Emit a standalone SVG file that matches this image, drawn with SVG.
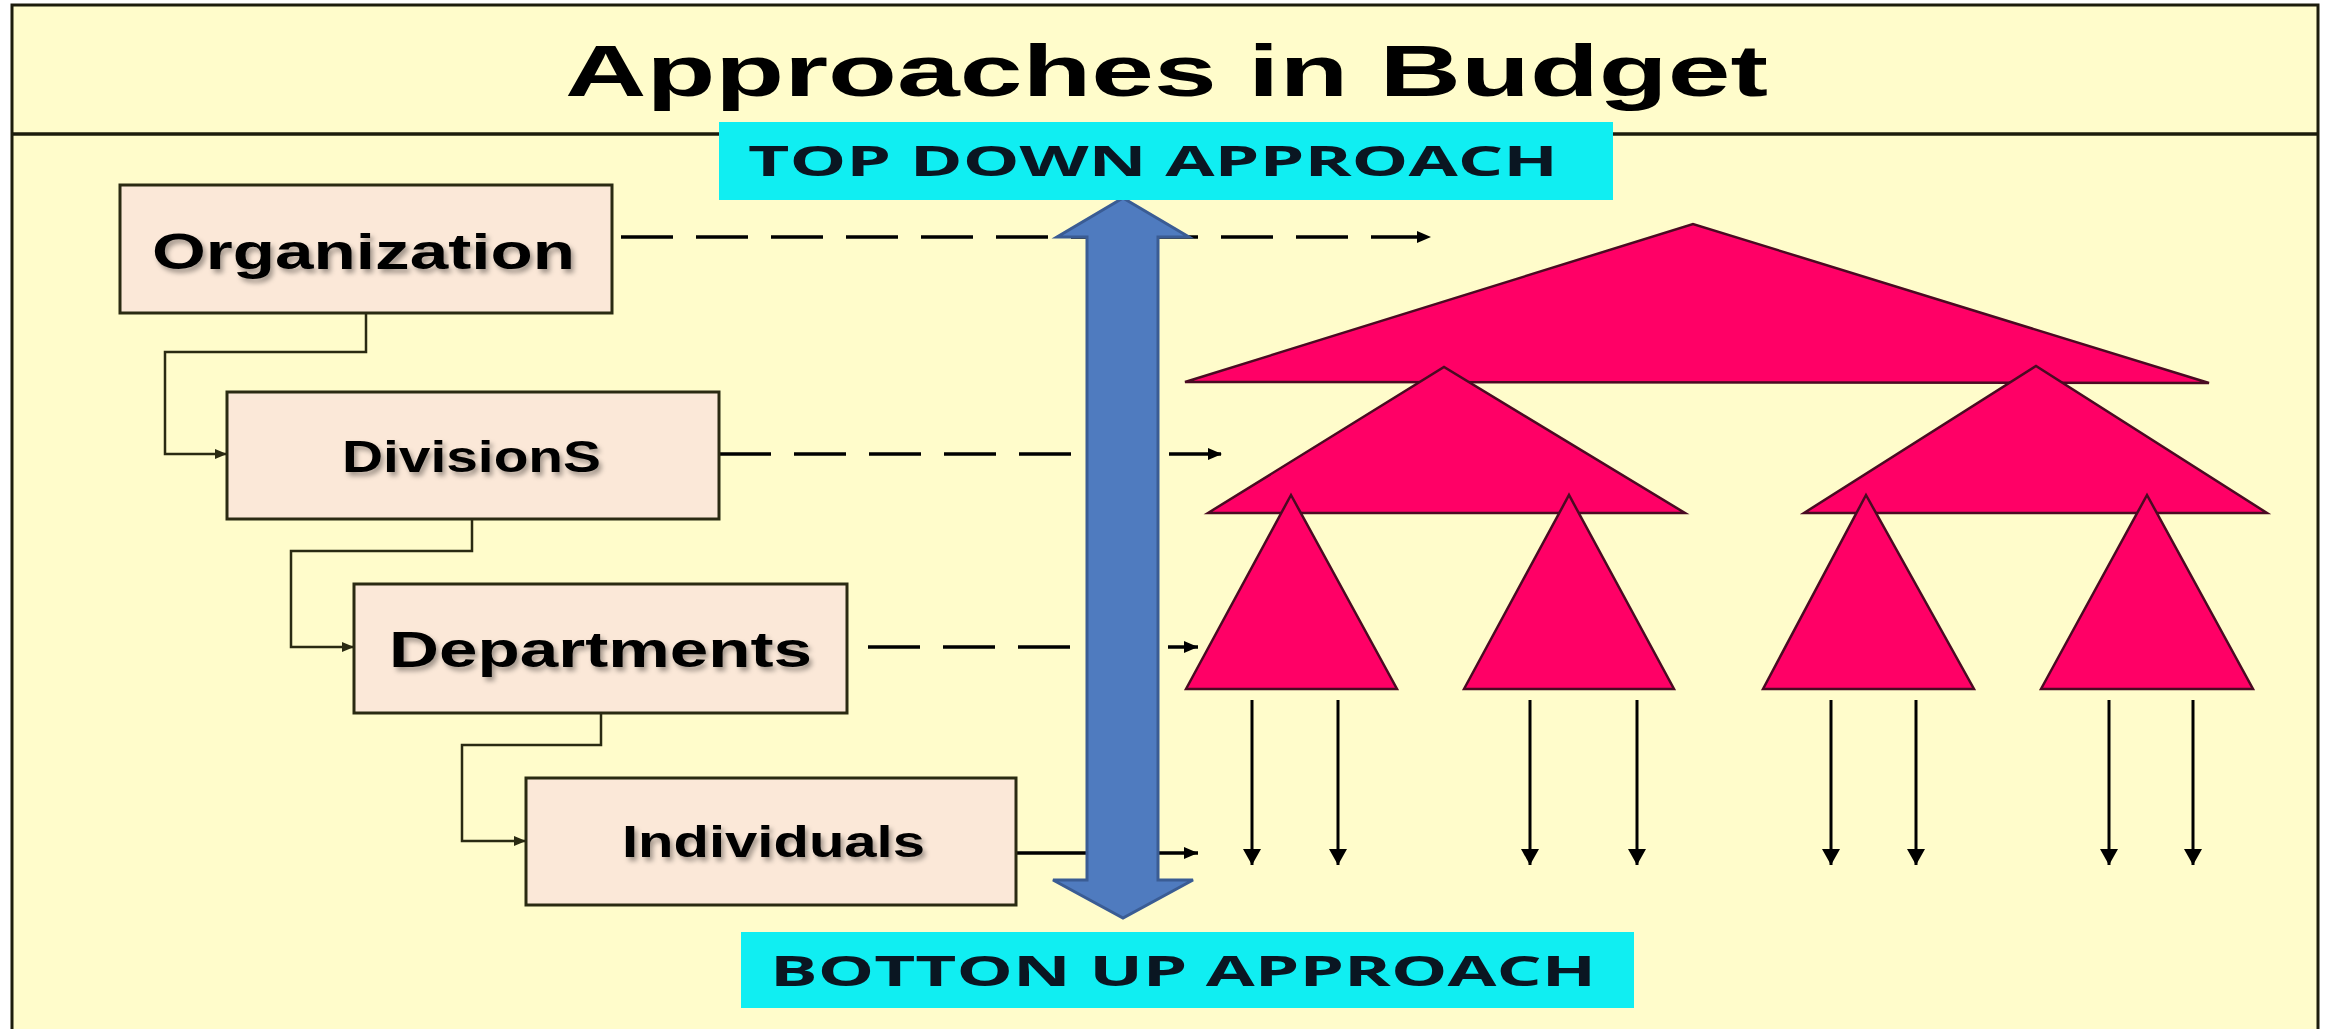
<svg xmlns="http://www.w3.org/2000/svg" width="2328" height="1029" viewBox="0 0 2328 1029">
  <defs>
    <style>
      .frame { fill: #fffccb; stroke: #1c1c0c; stroke-width: 3; }
      .box { fill: #fbe8d8; stroke: #2a2a12; stroke-width: 3; }
      .lbl { font-family: "Liberation Sans", Arial, sans-serif; font-weight: 700; fill: #000; }
      .tag { fill: #10eef2; }
      .tagtxt { font-family: "Open Sans", "Noto Sans", sans-serif; font-weight: 700; fill: #0a1622; }
      .tri { fill: #ff0066; stroke: #4a0a22; stroke-width: 2.5; stroke-linejoin: miter; }
      .elbow { fill: none; stroke: #2a2a12; stroke-width: 2.5; }
      .dash { fill: none; stroke: #000; stroke-width: 3.5; stroke-dasharray: 52 23; }
      .solid { fill: none; stroke: #000; stroke-width: 3.5; }
      .down { fill: none; stroke: #000; stroke-width: 3; }
    </style>
    <marker id="tip" markerUnits="userSpaceOnUse" markerWidth="14" markerHeight="12" refX="14" refY="6" orient="auto">
      <path d="M0,0 L14,6 L0,12 z" fill="#000"/>
    </marker>
    <marker id="tipSmall" markerUnits="userSpaceOnUse" markerWidth="12" markerHeight="10" refX="12" refY="5" orient="auto">
      <path d="M0,0 L12,5 L0,10 z" fill="#2a2a12"/>
    </marker>
    <marker id="tipDown" markerUnits="userSpaceOnUse" markerWidth="16" markerHeight="18" refX="16" refY="9" orient="auto">
      <path d="M0,0 L16,9 L0,18 z" fill="#000"/>
    </marker>
    <filter id="shadow" x="-10%" y="-30%" width="120%" height="160%">
      <feDropShadow dx="3" dy="4" stdDeviation="2.5" flood-color="#000" flood-opacity="0.35"/>
    </filter>
  </defs>

  <!-- page frame and title band -->
  <rect class="frame" x="12" y="5" width="2306" height="1040"/>
  <line x1="12" y1="134" x2="2318" y2="134" stroke="#1c1c0c" stroke-width="3.5"/>
  <text class="lbl" x="565" y="96" font-size="72" textLength="1203" lengthAdjust="spacingAndGlyphs">Approaches in Budget</text>

  <!-- connectors -->
  <g id="connectors">
    <path class="elbow" d="M366,313 V352 H165 V454 H227" marker-end="url(#tipSmall)"/>
    <path class="elbow" d="M472,519 V551 H291 V647 H354" marker-end="url(#tipSmall)"/>
    <path class="elbow" d="M601,713 V745 H462 V841 H526" marker-end="url(#tipSmall)"/>
    <path class="dash" d="M621,237 H1431" marker-end="url(#tip)"/>
    <path class="dash" d="M719,454 H1222" marker-end="url(#tip)"/>
    <path class="dash" d="M868,647 H1198" marker-end="url(#tip)"/>
    <path class="solid" d="M1016,853 H1198" marker-end="url(#tip)"/>
  </g>

  <!-- two-way approach arrow -->
  <g id="approach-arrow">
    <polygon points="1123,198 1189,237 1158,237 1158,880 1193,880 1123,918 1053,880 1087,880 1087,237 1057,237" fill="#4f7bbf" stroke="#3a5c94" stroke-width="3" stroke-linejoin="miter"/>
  </g>

  <g id="top-down">
    <rect class="tag" x="719" y="122" width="894" height="78"/>
    <text class="tagtxt" x="748" y="176" font-size="42" textLength="810" lengthAdjust="spacingAndGlyphs">TOP DOWN APPROACH</text>
  </g>
  <g id="bottom-up">
    <rect class="tag" x="741" y="932" width="893" height="76"/>
    <text class="tagtxt" x="770" y="986" font-size="41" textLength="826" lengthAdjust="spacingAndGlyphs">BOTTON UP APPROACH</text>
  </g>

  <!-- hierarchy boxes -->
  <g id="organization">
    <rect class="box" x="120" y="185" width="492" height="128"/>
    <text class="lbl" x="152" y="269" font-size="50" textLength="423" lengthAdjust="spacingAndGlyphs" filter="url(#shadow)">Organization</text>
  </g>
  <g id="divisions">
    <rect class="box" x="227" y="392" width="492" height="127"/>
    <text class="lbl" x="342" y="472" font-size="44" textLength="259" lengthAdjust="spacingAndGlyphs" filter="url(#shadow)">DivisionS</text>
  </g>
  <g id="departments">
    <rect class="box" x="354" y="584" width="493" height="129"/>
    <text class="lbl" x="389" y="667" font-size="50" textLength="423" lengthAdjust="spacingAndGlyphs" filter="url(#shadow)">Departments</text>
  </g>
  <g id="individuals">
    <rect class="box" x="526" y="778" width="490" height="127"/>
    <text class="lbl" x="622" y="857" font-size="44" textLength="303" lengthAdjust="spacingAndGlyphs" filter="url(#shadow)">Individuals</text>
  </g>

  <!-- budget tree -->
  <g id="tree-top">
    <polygon class="tri" points="1185,382 1693,224 2209,383"/>
  </g>
  <g id="tree-mid-left">
    <polygon class="tri" points="1208,513 1444,367 1685,513"/>
  </g>
  <g id="tree-mid-right">
    <polygon class="tri" points="1804,513 2036,366 2267,513"/>
  </g>
  <g id="tree-leaf-1">
    <polygon class="tri" points="1186,689 1291,495 1397,689"/>
  </g>
  <g id="tree-leaf-2">
    <polygon class="tri" points="1464,689 1569,495 1674,689"/>
  </g>
  <g id="tree-leaf-3">
    <polygon class="tri" points="1763,689 1866,495 1974,689"/>
  </g>
  <g id="tree-leaf-4">
    <polygon class="tri" points="2041,689 2147,495 2253,689"/>
  </g>

  <!-- allocations flowing down to individuals -->
  <g id="allocations">
    <path class="down" d="M1252,700 V865" marker-end="url(#tipDown)"/>
    <path class="down" d="M1338,700 V865" marker-end="url(#tipDown)"/>
    <path class="down" d="M1530,700 V865" marker-end="url(#tipDown)"/>
    <path class="down" d="M1637,700 V865" marker-end="url(#tipDown)"/>
    <path class="down" d="M1831,700 V865" marker-end="url(#tipDown)"/>
    <path class="down" d="M1916,700 V865" marker-end="url(#tipDown)"/>
    <path class="down" d="M2109,700 V865" marker-end="url(#tipDown)"/>
    <path class="down" d="M2193,700 V865" marker-end="url(#tipDown)"/>
  </g>
</svg>
